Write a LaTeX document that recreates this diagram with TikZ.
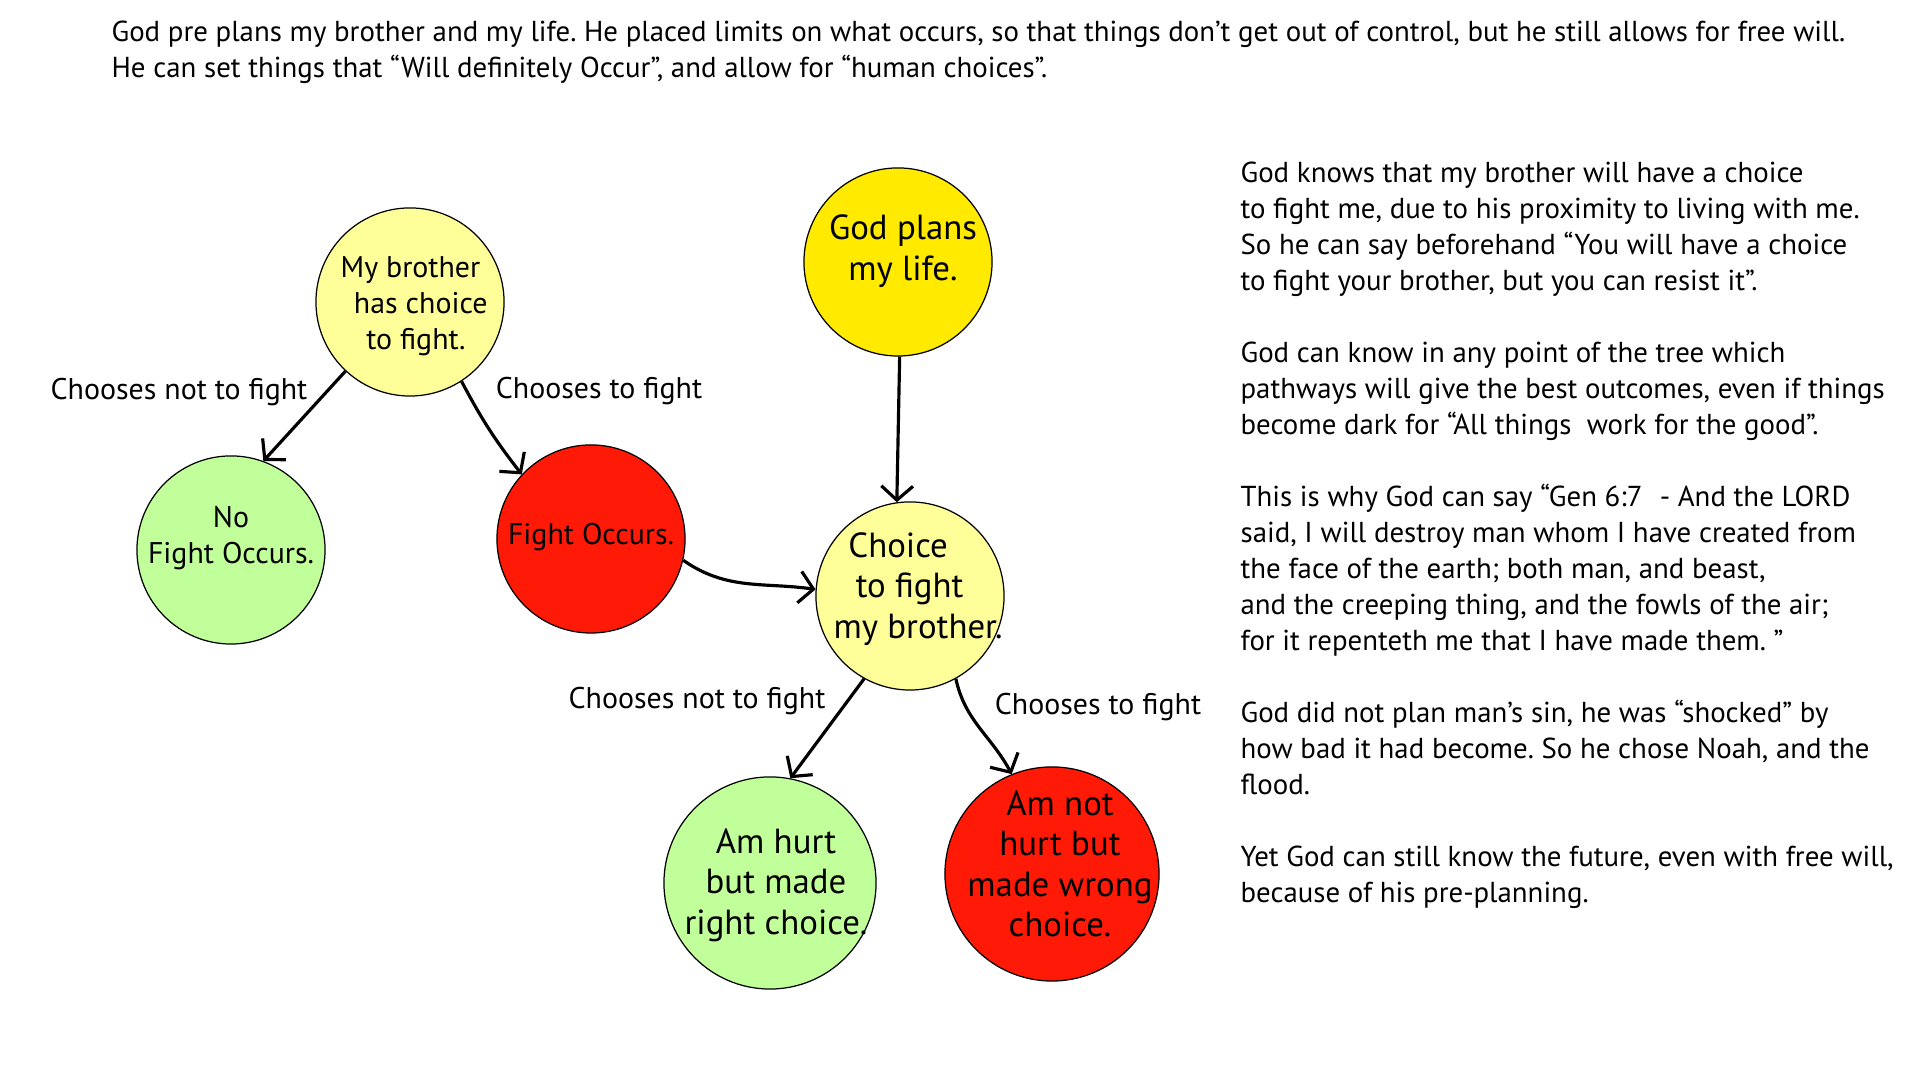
\documentclass[tikz,border=0pt]{standalone}
\usepackage{fontspec}
\setmainfont{PT Sans}
\usetikzlibrary{arrows.meta}
\frenchspacing

\definecolor{paleyellow}{RGB}{255,255,153}
\definecolor{godyellow}{RGB}{255,234,0}
\definecolor{palegreen}{RGB}{192,255,153}
\definecolor{fightred}{RGB}{255,26,8}
\newcommand{\smallfont}{\fontsize{8.5}{10.24}\selectfont}
\newcommand{\parafont}{\fontsize{8.2}{10.24}\selectfont}
\newcommand{\bigfont}{\fontsize{9.9}{11.5}\selectfont}

\begin{document}
\begin{tikzpicture}[x=0.01cm, y=0.01cm, line width=0.35pt,
  bubble/.style={circle, draw=black, line width=0.35pt, inner sep=0pt, minimum size=1.88cm},
  txt/.style={align=center, inner sep=0pt, font=\smallfont},
  arr/.style={-{Straight Barb[length=4pt, width=9pt]}, line width=0.9pt}]
  \useasboundingbox (0,0) rectangle (1920,1080);
  \fill[white] (0,0) rectangle (1920,1080);
  % 위 문단
  \node[anchor=north west, align=left, inner sep=0pt, font=\parafont] (intro) at (111,1060)
    {God pre plans my brother and my life. He placed limits on what occurs, so that things don’t get out of control, but he still allows for free will.\\
     He can set things that “Will definitely Occur”, and allow for “human choices”.};
  % 원
  \node[bubble, fill=paleyellow] (brother) at (410,778) {};
  \node[bubble, fill=godyellow] (god) at (898,818) {};
  \node[bubble, fill=palegreen] (nofight) at (231,530) {};
  \node[bubble, fill=fightred] (fight) at (591,541) {};
  \node[bubble, fill=paleyellow] (choice) at (910,484) {};
  \node[bubble, fill=palegreen, minimum size=2.12cm] (hurt) at (770,197) {};
  \node[bubble, fill=fightred, minimum size=2.14cm] (nothurt) at (1052,206) {};
  % 원 안 문자
  \node[txt, align=left, anchor=west] (brothertxt) at (340,774)
    {My brother\\\hspace{3.8pt}has choice\\\hspace{7.3pt}to fight.};
  \node[txt, font=\bigfont] (godtxt) at (903,829) {God plans\\my life.};
  \node[txt] (nofighttxt) at (231,542) {No\\Fight Occurs.};
  \node[txt] (fighttxt) at (591,543) {Fight Occurs.};
  \node[txt, font=\bigfont, align=left, anchor=west] (choicetxt) at (833,491)
    {\hspace{4.2pt}Choice\\\hspace{6.3pt}to fight\\my brother.};
  \node[txt, font=\bigfont] (hurttxt) at (776,195) {Am hurt\\but made\\right choice.};
  \node[txt, font=\bigfont] (nothurttxt) at (1060,216) {Am not\\hurt but\\made wrong\\choice.};
  % 화살표
  \draw[arr] (brother.-133) -- (nofight.70);
  \draw[arr] (brother.-57) to[bend right=5] (fight.137);
  \draw[arr] (god.-89) -- (choice.98);
  \draw[arr] (fight.-13) to[out=-35, in=172] (choice.176);
  \draw[arr] (choice.-119) -- (hurt.79);
  \draw[arr] (choice.-61) to[out=-78, in=118] (nothurt.112);
  % 갈래 문자
  \node[txt] (notfight1) at (179,688) {Chooses not to fight};
  \node[txt] (tofight1) at (599,689) {Chooses to fight};
  \node[txt] (notfight2) at (697,379) {Chooses not to fight};
  \node[txt] (tofight2) at (1098,373) {Chooses to fight};
  % 오른쪽 문단
  \node[anchor=north west, align=left, inner sep=0pt, font=\parafont] (notes) at (1240,919)
    {God knows that my brother will have a choice\\
     to fight me, due to his proximity to living with me.\\
     So he can say beforehand “You will have a choice\\
     to fight your brother, but you can resist it”.\\[10.24pt]
     God can know in any point of the tree which\\
     pathways will give the best outcomes, even if things\\
     become dark for “All things\ \ work for the good”.\\[10.24pt]
     This is why God can say “Gen 6:7\hspace{0.6em}- And the LORD\\
     said, I will destroy man whom I have created from\\
     the face of the earth; both man, and beast,\\
     and the creeping thing, and the fowls of the air;\\
     for it repenteth me that I have made them. ”\\[10.24pt]
     God did not plan man’s sin, he was “shocked” by\\
     how bad it had become. So he chose Noah, and the\\
     flood.\\[10.24pt]
     Yet God can still know the future, even with free will,\\
     because of his pre-planning.};
\end{tikzpicture}
\end{document}
